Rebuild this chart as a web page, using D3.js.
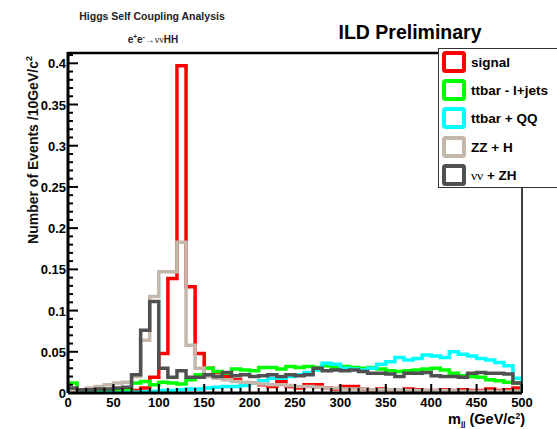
<!DOCTYPE html>
<html>
<head>
<meta charset="utf-8">
<script src="https://cdn.jsdelivr.net/npm/d3@7"></script>
<style>
  html, body { margin: 0; padding: 0; background: #fff; }
  svg { display: block; font-family: "Liberation Sans", Arial, Helvetica, sans-serif; }
</style>
</head>
<body>
<svg id="chart" width="557" height="429"></svg>
<script>
// Dijet mass distributions, 10 GeV bins from 0 to 500 GeV
const binEdges = d3.range(0, 501, 10);

const signal = [0,0,0,0,0,0.001,0.002,0.003,0.006,0.019,0.048,0.139,0.397,0.129,0.048,0.03,0.025,0.02,0.016,0.012,
  0.012,0.01,0.008,0.014,0.008,0.006,0.01,0.01,0.006,0.005,0.008,0.008,0.005,0.004,0.005,0.004,0.004,0.005,0.004,0.003,
  0.003,0.004,0.003,0.004,0.003,0.003,0.005,0.003,0.004,0.006];

const ttbarLjets = [0.012,0.001,0.001,0.002,0.002,0.003,0.003,0.012,0.014,0.01,0.013,0.012,0.011,0.016,0.022,0.03,0.026,0.024,0.029,0.028,
  0.027,0.031,0.031,0.029,0.032,0.031,0.032,0.031,0.033,0.031,0.032,0.031,0.03,0.031,0.029,0.027,0.026,0.027,0.028,0.029,
  0.03,0.028,0.024,0.021,0.02,0.019,0.016,0.015,0.013,0.012];

const ttbarQQ = [0,0,0,0,0,0,0.0005,0.001,0.0015,0.002,0.003,0.003,0.004,0.005,0.005,0.006,0.007,0.008,0.008,0.009,
  0.012,0.015,0.018,0.018,0.02,0.022,0.025,0.028,0.036,0.035,0.03,0.029,0.028,0.03,0.035,0.038,0.043,0.04,0.042,0.046,
  0.045,0.043,0.05,0.047,0.045,0.042,0.04,0.037,0.033,0.018];

const zzH = [0.003,0.004,0.006,0.008,0.01,0.012,0.013,0.02,0.064,0.117,0.147,0.147,0.183,0.058,0.03,0.02,0.018,0.016,0.014,0.013,
  0.012,0.011,0.01,0.01,0.009,0.008,0.008,0.007,0.006,0.006,0.005,0.005,0.005,0.004,0.004,0.004,0.004,0.003,0.003,0.003,
  0.003,0.003,0.003,0.002,0.002,0.002,0.002,0.002,0.002,0.002];

const nnZH = [0.006,0.004,0.004,0.005,0.005,0.006,0.007,0.022,0.076,0.111,0.03,0.019,0.027,0.019,0.019,0.022,0.02,0.025,0.021,0.022,
  0.02,0.021,0.022,0.02,0.022,0.021,0.022,0.03,0.027,0.028,0.027,0.028,0.026,0.024,0.024,0.023,0.02,0.024,0.024,0.025,
  0.021,0.02,0.02,0.019,0.024,0.025,0.024,0.024,0.023,0.012];

const seriesNames = ["signal", "ttbar - l+jets", "ttbar + QQ", "ZZ + H", "nnZH"];
const seriesColors = ["#ff0000", "#00ff00", "#00ffff", "#c4b8ac", "#505050"];
const seriesValues = [signal, ttbarLjets, ttbarQQ, zzH, nnZH];

const xTicks = [0, 50, 100, 150, 200, 250, 300, 350, 400, 450, 500];
const yTicks = [0, 0.05, 0.1, 0.15, 0.2, 0.25, 0.3, 0.35, 0.4];

const svg = d3.select("#chart");
const L = 68, R = 522, T = 53, B = 393;

const x = d3.scaleLinear().domain([0, 500]).range([L, R]);
const y = d3.scaleLinear().domain([0, 0.4125]).range([B, T]);

svg.append("rect").attr("width", 557).attr("height", 429).attr("fill", "#fff");

svg.append("clipPath").attr("id", "plot")
  .append("rect").attr("x", L).attr("y", T).attr("width", R - L).attr("height", B - T);

// Step outlines
const stepPts = vals => {
  const pts = [[binEdges[0], 0]];
  vals.forEach((v, i) => { pts.push([binEdges[i], v]); pts.push([binEdges[i + 1], v]); });
  pts.push([binEdges[binEdges.length - 1], 0]);
  return pts;
};
const line = d3.line().x(d => x(d[0])).y(d => y(d[1]));

const hg = svg.append("g").attr("clip-path", "url(#plot)");
seriesValues.forEach((vals, i) => {
  hg.append("path")
    .attr("d", line(stepPts(vals)))
    .attr("fill", "none")
    .attr("stroke", seriesColors[i])
    .attr("stroke-width", 3.5)
    .attr("stroke-linejoin", "miter");
});

// Frame
svg.append("line").attr("x1", R).attr("x2", R).attr("y1", T).attr("y2", B)
  .attr("stroke", "#000").attr("stroke-width", 1.5);
svg.append("line").attr("x1", L).attr("x2", R).attr("y1", T).attr("y2", T)
  .attr("stroke", "#000").attr("stroke-width", 2.5);

// Y axis: ticks drawn inside the frame
const yAxis = svg.append("g");
yAxis.append("line").attr("x1", L).attr("x2", L).attr("y1", T - 1).attr("y2", B).attr("stroke", "#000").attr("stroke-width", 3);
d3.range(0, 0.4125, 0.01).forEach((v, i) => {
  const major = i % 5 === 0;
  yAxis.append("line").attr("x1", L).attr("x2", L + (major ? 10 : 5))
    .attr("y1", y(v)).attr("y2", y(v)).attr("stroke", "#000").attr("stroke-width", 2);
});
const fmt = d3.format("~g");
yAxis.selectAll("text.yl").data(yTicks).join("text")
  .attr("x", L - 2).attr("y", d => y(d) + 5)
  .attr("text-anchor", "end").attr("font-size", 13).attr("font-weight", "bold")
  .text(d => fmt(d));

// X axis
const xAxis = svg.append("g");
xAxis.append("line").attr("x1", L).attr("x2", R).attr("y1", B).attr("y2", B).attr("stroke", "#000").attr("stroke-width", 3);
d3.range(0, 501, 10).forEach((v, i) => {
  const major = i % 5 === 0;
  xAxis.append("line").attr("x1", x(v)).attr("x2", x(v))
    .attr("y1", B).attr("y2", B - (major ? 9 : 5)).attr("stroke", "#000").attr("stroke-width", 2);
});
xAxis.selectAll("text.xl").data(xTicks).join("text")
  .attr("x", d => x(d)).attr("y", B + 14)
  .attr("text-anchor", "middle").attr("font-size", 13).attr("font-weight", "bold")
  .text(d => d);

// Axis titles
const xt = svg.append("text").attr("x", 525).attr("y", 424).attr("text-anchor", "end")
  .attr("font-size", 14.5).attr("font-weight", "bold");
xt.append("tspan").text("m");
xt.append("tspan").attr("font-size", 8).attr("dy", 1.5).text("jj");
xt.append("tspan").attr("dy", -1.5).text(" (GeV/c");
xt.append("tspan").attr("font-size", 8.5).attr("dy", -5).text("2");
xt.append("tspan").attr("dy", 5).text(")");

const yt = svg.append("text").attr("transform", "translate(38,150) rotate(-90)")
  .attr("text-anchor", "middle").attr("font-size", 14).attr("font-weight", "bold").attr("fill", "#111");
yt.append("tspan").text("Number of Events /10GeV/c");
yt.append("tspan").attr("font-size", 9).attr("dy", -6).text("2");

// Headers
svg.append("text").attr("x", 152).attr("y", 20).attr("text-anchor", "middle")
  .attr("font-size", 10.5).attr("font-weight", "bold").attr("fill", "#222").text("Higgs Self Coupling Analysis");
const proc = svg.append("text").attr("x", 153).attr("y", 43).attr("text-anchor", "middle")
  .attr("font-size", 10).attr("font-weight", "bold").attr("fill", "#222");
proc.append("tspan").text("e");
proc.append("tspan").attr("font-size", 6.5).attr("dy", -4).text("+");
proc.append("tspan").attr("dy", 4).text("e");
proc.append("tspan").attr("font-size", 6.5).attr("dy", -4).text("-");
proc.append("tspan").attr("dy", 4).attr("font-weight", "normal").attr("font-family", "Liberation Serif, serif").text("→νν");
proc.append("tspan").text("HH");

svg.append("text").attr("x", 410).attr("y", 39).attr("text-anchor", "middle")
  .attr("font-size", 19.5).attr("font-weight", "bold").text("ILD Preliminary");

// Legend
const lg = svg.append("g");
lg.append("rect").attr("x", 438.5).attr("y", 48.5).attr("width", 130).attr("height", 139)
  .attr("fill", "#fff").attr("stroke", "#333").attr("stroke-width", 1);
const legendY = [62, 90, 118, 147, 175];
seriesNames.forEach((name, i) => {
  lg.append("rect").attr("x", 444).attr("y", legendY[i] - 9).attr("width", 20).attr("height", 18)
    .attr("fill", "#fff").attr("stroke", seriesColors[i]).attr("stroke-width", 4).attr("rx", 1.5);
  const t = lg.append("text").attr("x", 471).attr("y", legendY[i] + 5)
    .attr("font-size", 13.5).attr("font-weight", "bold");
  if (name === "nnZH") {
    t.append("tspan").attr("font-family", "Liberation Serif, serif").attr("font-weight", "normal").text("νν");
    t.append("tspan").text(" + ZH");
  } else {
    t.text(name);
  }
});
</script>
</body>
</html>
